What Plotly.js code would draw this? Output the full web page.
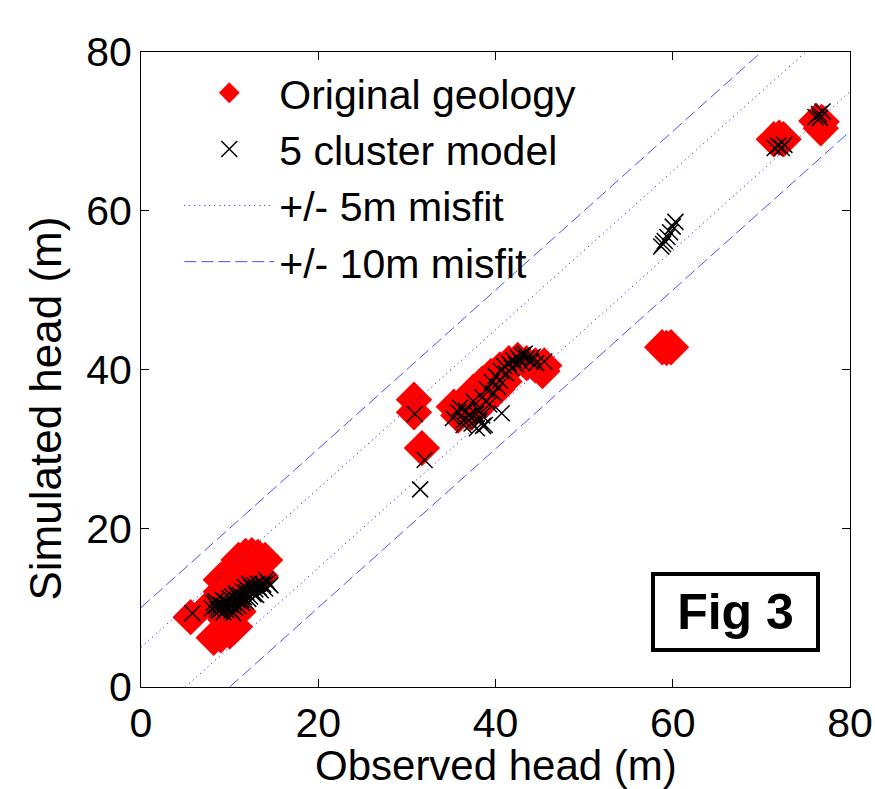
<!DOCTYPE html>
<html>
<head>
<meta charset="utf-8">
<script src="https://cdn.plot.ly/plotly-3.0.1.min.js"></script>
<style>html,body{margin:0;padding:0;background:#fff}#chart{width:875px;height:789px}</style>
</head>
<body>
<div id="chart"></div>
<script>
// Original geology (observed, simulated)
const geoObserved = [5.6, 8.0, 9.0, 9.0, 10.0, 11.0, 11.8, 12.5, 13.2, 14.0, 12.5, 13.5, 11.5, 10.5,
  8.2, 9.0, 10.0, 10.6, 9.5, 11.0,
  30.8, 30.8, 31.7,
  35.3, 35.8, 36.5, 37.2, 37.5, 38.5, 38.8, 39.5, 40.2, 40.5, 41.5, 42.5, 43.5, 44.5, 45.3, 45.5, 41.0, 39.4,
  58.8, 59.3, 59.8,
  71.4, 72.0, 72.5, 76.2, 76.7, 76.8];
const geoSimulated = [8.8, 10.5, 12.0, 13.5, 14.5, 16.0, 16.5, 16.6, 16.4, 16.0, 14.5, 14.0, 13.0, 12.0,
  6.2, 6.5, 7.0, 7.6, 8.5, 9.5,
  36.2, 34.6, 30.1,
  35.3, 34.2, 36.0, 34.5, 37.2, 38.2, 36.0, 39.2, 37.5, 40.0, 40.8, 41.2, 40.8, 40.5, 39.8, 40.5, 38.5, 36.8,
  42.8, 42.7, 42.8,
  69.0, 69.2, 69.0, 71.3, 70.4, 71.2];

// 5 cluster model (observed, simulated)
const clusterObserved = [5.8, 8.0, 8.5, 8.8, 9.0, 9.3, 9.5, 9.8, 10.0, 10.2, 10.5, 10.8, 11.0, 11.3, 11.5, 11.8, 12.0, 12.3, 12.6, 12.8, 13.0, 13.3, 13.6, 14.0, 14.3, 14.6,
  8.2, 8.6, 9.1, 9.4, 9.6, 9.9, 10.1, 10.3, 10.6, 10.7, 10.9, 11.2, 11.4, 11.6, 11.9, 12.1, 12.4, 12.7, 12.9, 13.2, 13.5, 13.8, 14.1, 9.2, 8.4, 10.4, 11.7, 12.2,
  30.9, 32.0, 31.5,
  35.2, 35.8, 36.4, 37.0, 37.9, 38.2, 38.0, 38.5, 37.5, 38.5, 39.0, 39.3, 39.6, 40.0, 40.3, 40.6, 41.0, 41.5, 42.0, 42.5, 43.0, 43.5, 44.0, 44.6, 45.5, 40.7,
  36.0, 36.7, 37.3, 38.8, 37.8, 39.0, 39.8, 40.5, 41.2, 41.8, 42.3, 42.8, 43.3, 44.2, 38.6, 36.4,
  58.7, 58.9, 59.1, 59.4, 59.7, 60.0, 60.3,
  71.5, 71.9, 72.3, 72.6, 76.1, 76.5, 76.9, 76.6];
const clusterSimulated = [9.3, 9.9, 10.2, 9.6, 10.4, 9.4, 10.8, 10.0, 11.2, 9.6, 10.6, 11.5, 10.2, 11.0, 12.0, 10.8, 12.3, 11.4, 12.0, 12.8, 11.6, 12.5, 13.0, 12.4, 13.2, 12.8,
  10.6, 9.8, 9.9, 10.2, 9.7, 10.5, 10.3, 11.4, 10.0, 11.8, 10.9, 11.6, 10.6, 11.3, 11.9, 11.1, 12.6, 11.7, 12.3, 13.0, 12.2, 12.9, 13.5, 11.0, 10.8, 9.3, 12.6, 13.0,
  34.4, 28.6, 24.9,
  33.9, 34.6, 33.6, 34.2, 32.6, 33.5, 35.0, 34.2, 36.0, 36.5, 37.5, 35.6, 38.4, 39.2, 37.8, 39.8, 40.4, 40.8, 41.2, 41.5, 41.8, 41.4, 41.0, 40.8, 41.0, 34.5,
  35.2, 34.8, 33.2, 33.0, 34.4, 36.0, 37.0, 38.6, 39.5, 40.2, 40.6, 41.0, 42.0, 41.6, 32.9, 33.0,
  55.5, 55.8, 56.2, 56.7, 57.3, 58.0, 58.6,
  67.9, 68.2, 67.9, 68.3, 71.8, 72.2, 72.5, 71.7];

// misfit envelopes: y = x +/- 5 and y = x +/- 10
const misfit5X = [0, 75, null, 5, 80];
const misfit5Y = [5, 80, null, 0, 75];
const misfit10X = [0, 70, null, 10, 80];
const misfit10Y = [10, 80, null, 0, 70];

const axisTicks = [0, 20, 40, 60, 80];
const seriesNames = ['Original geology', '5 cluster model', '+/- 5m misfit', '+/- 10m misfit'];
const xTitle = 'Observed head (m)';
const yTitle = 'Simulated head (m)';
const figLabel = 'Fig 3';

const FONT = 'Liberation Sans, Arial, sans-serif';

const traces = [
  {x: geoObserved, y: geoSimulated, type: 'scatter', mode: 'markers', name: seriesNames[0],
   marker: {symbol: 'diamond', size: 28, color: '#ff0000', line: {width: 0}}},
  {x: clusterObserved, y: clusterSimulated, type: 'scatter', mode: 'markers', name: seriesNames[1],
   marker: {symbol: 'x-thin-open', size: 16, color: '#000000', line: {width: 1.5, color: '#000000'}}},
  {x: misfit5X, y: misfit5Y, type: 'scatter', mode: 'lines', name: seriesNames[2],
   line: {color: '#0000ff', width: 1, dash: '1px,4px'}},
  {x: misfit10X, y: misfit10Y, type: 'scatter', mode: 'lines', name: seriesNames[3],
   line: {color: '#4d4dff', width: 1, dash: '12px,5px'}}
];

const axisCommon = {
  range: [0, 80], tickvals: axisTicks, ticktext: axisTicks.map(String),
  showgrid: false, zeroline: false, showline: true, mirror: 'ticks',
  linecolor: '#000', linewidth: 1, ticks: 'inside', ticklen: 8, tickcolor: '#000',
  tickfont: {family: FONT, size: 41, color: '#000'}
};

const layout = {
  width: 875, height: 789,
  margin: {l: 141, r: 25, t: 52, b: 102, pad: 0},
  paper_bgcolor: '#fff', plot_bgcolor: '#fff',
  font: {family: FONT, color: '#000'},
  showlegend: true,
  xaxis: Object.assign({}, axisCommon),
  yaxis: Object.assign({}, axisCommon),
  legend: {
    x: 0.054, y: 0.988, xanchor: 'left', yanchor: 'top',
    bgcolor: 'rgba(0,0,0,0)', borderwidth: 0,
    font: {family: FONT, size: 41, color: '#000'},
    tracegroupgap: 0, itemwidth: 90
  },
  annotations: [{
    xref: 'paper', yref: 'paper', x: 0.5, y: -0.124, xanchor: 'center', yanchor: 'middle',
    text: xTitle, showarrow: false,
    font: {family: FONT, size: 42, color: '#000'}
  }, {
    xref: 'paper', yref: 'paper', x: -0.135, y: 0.439, xanchor: 'center', yanchor: 'middle',
    text: yTitle, textangle: -90, showarrow: false,
    font: {family: FONT, size: 44, color: '#000'}
  }, {
    xref: 'paper', yref: 'paper', x: 0.8385, y: 0.118, xanchor: 'center', yanchor: 'middle',
    text: '<b>' + figLabel + '</b>', showarrow: false, width: 145,
    font: {family: FONT, size: 50, color: '#000'},
    bordercolor: '#000', borderwidth: 4, borderpad: 8, bgcolor: '#fff'
  }]
};

Plotly.newPlot('chart', traces, layout, {displayModeBar: false, staticPlot: true});
</script>
</body>
</html>
